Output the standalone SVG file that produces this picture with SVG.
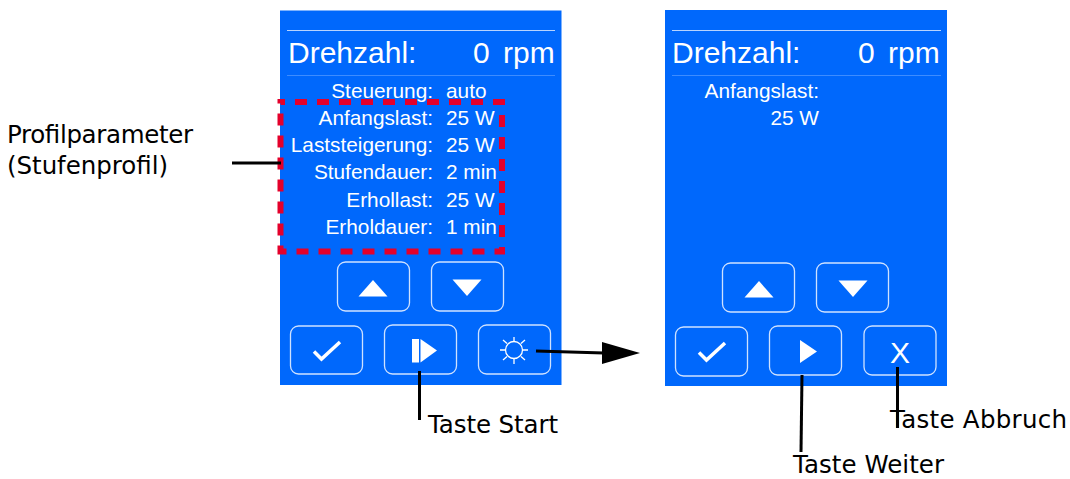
<svg xmlns="http://www.w3.org/2000/svg" width="1070" height="479" viewBox="0 0 1070 479">
<defs>
<g id="up"><polygon points="-14.500,7.500 14.500,7.500 0,-9" fill="#fff"/></g>
<g id="down"><polygon points="-14.500,-8 14.500,-8 0,8.500" fill="#fff"/></g>
<path id="chk" d="M-12,1.500 L-4.500,9 L14,-8" fill="none" stroke="#fff" stroke-width="3.500"/>
</defs>
<style>
.panel{fill:#0068fc}
.btn{fill:none;stroke:#cfe2ff;stroke-width:1.300}
.hr{stroke:#b8d4ff;stroke-width:1}
.hr2{stroke:#3d8cff;stroke-width:1}
.big{font:30px "Liberation Sans",Arial,sans-serif;fill:#fff}
.sm{font:20.800px "Liberation Sans",Arial,sans-serif;fill:#fff}
.r{text-anchor:end}
.lab{font:24.500px "DejaVu Sans","Liberation Sans",sans-serif;fill:#000}
.conn{stroke:#000;stroke-width:3;fill:none}
</style>
<g id="panel-left">
<rect class="panel" x="280" y="10.500" width="281.500" height="374.500"/>
<line class="hr" x1="287" y1="30.500" x2="555" y2="30.500"/>
<line class="hr2" x1="287" y1="75.500" x2="555" y2="75.500"/>
<text class="big" x="288" y="63">Drehzahl:</text>
<text class="big" x="473" y="63">0</text>
<text class="big" x="503" y="63">rpm</text>
<text class="sm r" x="433" y="98">Steuerung:</text><text class="sm" x="446" y="98">auto</text>
<text class="sm r" x="433" y="125">Anfangslast:</text><text class="sm" x="446" y="125">25 W</text>
<text class="sm r" x="433" y="152">Laststeigerung:</text><text class="sm" x="446" y="152">25 W</text>
<text class="sm r" x="433" y="179">Stufendauer:</text><text class="sm" x="446" y="179">2 min</text>
<text class="sm r" x="433" y="207">Erhollast:</text><text class="sm" x="446" y="207">25 W</text>
<text class="sm r" x="433" y="234">Erholdauer:</text><text class="sm" x="446" y="234">1 min</text>
<rect x="337.500" y="262" width="72" height="49" rx="8" class="btn"/>
<rect x="431.500" y="262" width="72" height="49" rx="8" class="btn"/>
<rect x="290.500" y="326" width="72" height="48" rx="8" class="btn"/>
<rect x="384.500" y="325" width="72" height="49" rx="8" class="btn"/>
<rect x="478.500" y="325" width="72" height="49" rx="8" class="btn"/>
<use href="#up" x="373" y="289"/>
<use href="#down" x="467" y="287.500"/>
<use href="#chk" x="326" y="350"/>
<rect x="412" y="339" width="7" height="23.500" fill="#fff"/>
<polygon points="420.500,339 437,350.500 420.500,362.500" fill="#fff"/>
<g id="sun" fill="none" stroke="#fff" stroke-width="1.300">
<circle cx="514" cy="350" r="8.500"/>
<path d="M514,337V341M514,359V364M500,350H505M523,350H528M503,340L507,343.500M521,356.500L525,360M503,360L507,356.500M521,343.500L525,340"/>
</g>
</g>
<g id="panel-right">
<rect class="panel" x="665" y="10" width="282" height="376"/>
<line class="hr" x1="672" y1="30.500" x2="941" y2="30.500"/>
<line class="hr2" x1="672" y1="75.500" x2="941" y2="75.500"/>
<text class="big" x="672" y="63">Drehzahl:</text>
<text class="big" x="858" y="63">0</text>
<text class="big" x="888" y="63">rpm</text>
<text class="sm r" x="819" y="98">Anfangslast:</text>
<text class="sm r" x="819" y="125">25 W</text>
<rect x="722.500" y="263" width="72" height="49" rx="8" class="btn"/>
<rect x="816.500" y="263" width="72" height="49" rx="8" class="btn"/>
<rect x="675.500" y="327" width="72" height="49" rx="8" class="btn"/>
<rect x="769.500" y="326" width="72" height="49" rx="8" class="btn"/>
<rect x="864" y="326" width="72" height="49" rx="8" class="btn"/>
<use href="#up" x="759" y="290"/>
<use href="#down" x="853" y="288.500"/>
<use href="#chk" x="711" y="351"/>
<polygon points="800,340 817,351.500 800,363" fill="#fff"/>
<text x="900" y="363" text-anchor="middle" style="font:30px 'Liberation Sans',Arial,sans-serif;fill:#fff">X</text>
</g>
<g id="dash-box">
<rect x="280.500" y="102" width="221.500" height="149.500" fill="none" stroke="#e4002b" stroke-width="6" stroke-dasharray="12 10" stroke-dashoffset="7.500"/>
</g>
<g id="connectors">
<line class="conn" x1="232" y1="163" x2="281" y2="163"/>
<line class="conn" x1="419.500" y1="371" x2="419.500" y2="420"/>
<line class="conn" x1="536" y1="351" x2="604" y2="353"/>
<polygon points="602,342 640,353 602,364" fill="#000"/>
<line class="conn" x1="802" y1="375" x2="801" y2="452"/>
<line class="conn" x1="897.500" y1="367" x2="897.500" y2="428"/>
</g>
<g id="labels">
<text class="lab" x="7" y="143" textLength="186">Profilparameter</text>
<text class="lab" x="7" y="174" textLength="161">(Stufenprofil)</text>
<text class="lab" x="428" y="433" textLength="130">Taste Start</text>
<text class="lab" x="793" y="473" textLength="151">Taste Weiter</text>
<text class="lab" x="890" y="428" textLength="177">Taste Abbruch</text>
</g>
</svg>
